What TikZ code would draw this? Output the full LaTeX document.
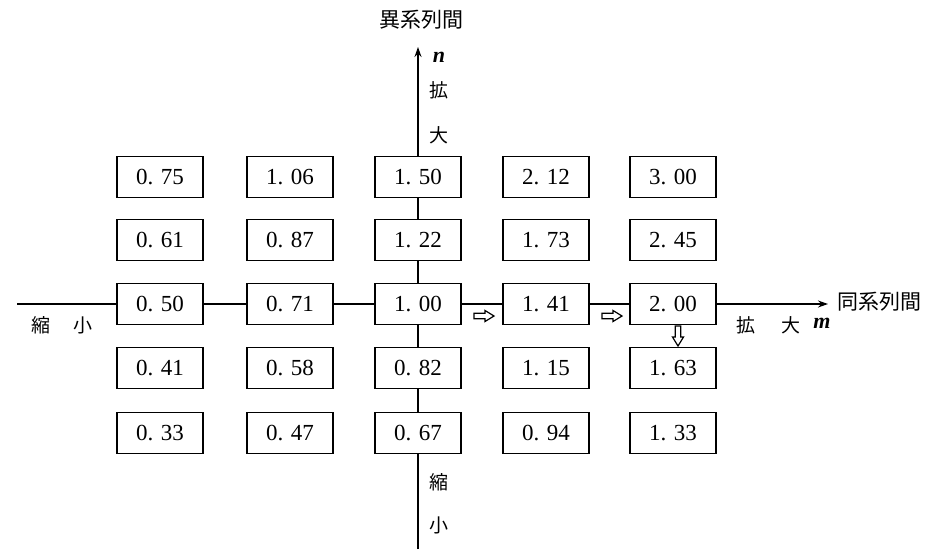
\documentclass[tikz,border=0pt]{standalone}
\usepackage{fontspec}
\setmainfont{Liberation Serif}
\newfontfamily\jp{Noto Sans CJK JP}
\usetikzlibrary{arrows.meta}
\begin{document}
\begin{tikzpicture}[x=1pt,y=-1pt,
 valbox/.style={draw,line width=1.6pt,fill=white,minimum width=86pt,minimum height=41pt,inner sep=0pt,font=\fontsize{23}{25}\selectfont},
 axis/.style={line width=1.5pt},
 axisend/.style={line width=1.5pt,-{Stealth[length=10pt,width=7pt]}},
 lbl/.style={font=\jp\fontsize{19}{21}\selectfont,inner sep=0pt},
 head/.style={font=\jp\fontsize{21}{23}\selectfont,inner sep=0pt},
 var/.style={font=\bfseries\itshape\fontsize{22}{24}\selectfont,inner sep=0pt},
 hollow/.pic={\draw[line width=1.2pt,line join=miter,fill=white] (-10,-2.8) -- (1,-2.8) -- (1,-5.5) -- (10,0) -- (1,5.5) -- (1,2.8) -- (-10,2.8) -- cycle;}
]
\useasboundingbox (0,0) rectangle (937,555);
% row 1
\node[valbox] (b11) at (160,177) {0. 75};
\node[valbox] (b12) at (290,177) {1. 06};
\node[valbox] (b13) at (418,177) {1. 50};
\node[valbox] (b14) at (546,177) {2. 12};
\node[valbox] (b15) at (673,177) {3. 00};
% row 2
\node[valbox] (b21) at (160,240) {0. 61};
\node[valbox] (b22) at (290,240) {0. 87};
\node[valbox] (b23) at (418,240) {1. 22};
\node[valbox] (b24) at (546,240) {1. 73};
\node[valbox] (b25) at (673,240) {2. 45};
% row 3
\node[valbox] (b31) at (160,304) {0. 50};
\node[valbox] (b32) at (290,304) {0. 71};
\node[valbox] (b33) at (418,304) {1. 00};
\node[valbox] (b34) at (546,304) {1. 41};
\node[valbox] (b35) at (673,304) {2. 00};
% row 4
\node[valbox] (b41) at (160,368) {0. 41};
\node[valbox] (b42) at (290,368) {0. 58};
\node[valbox] (b43) at (418,368) {0. 82};
\node[valbox] (b44) at (546,368) {1. 15};
\node[valbox] (b45) at (673,368) {1. 63};
% row 5
\node[valbox] (b51) at (160,433) {0. 33};
\node[valbox] (b52) at (290,433) {0. 47};
\node[valbox] (b53) at (418,433) {0. 67};
\node[valbox] (b54) at (546,433) {0. 94};
\node[valbox] (b55) at (673,433) {1. 33};
% axis ends
\coordinate (hl) at (17,304);
\coordinate (hr) at (828,304);
\coordinate (vt) at (418,47);
\coordinate (vb) at (418,549);
% horizontal axis
\draw[axis] (hl) -- (b31.west);
\draw[axis] (b31.east) -- (b32.west);
\draw[axis] (b32.east) -- (b33.west);
\draw[axis] (b33.east) -- (b34.west);
\draw[axis] (b34.east) -- (b35.west);
\draw[axisend] (b35.east) -- (hr);
% vertical axis
\draw[axis] (vb) -- (b53.south);
\draw[axis] (b53.north) -- (b43.south);
\draw[axis] (b43.north) -- (b33.south);
\draw[axis] (b33.north) -- (b23.south);
\draw[axis] (b23.north) -- (b13.south);
\draw[axisend] (b13.north) -- (vt);
% labels
\node[head] (t1) at (421,20) {異系列間};
\node[head, anchor=west] (t2) at (837,302) {同系列間};
\node[var] (ln) at (439,57) {n};
\node[lbl] (l1) at (439,90) {拡};
\node[lbl] (l2) at (439,135) {大};
\node[lbl] (l3) at (439,482) {縮};
\node[lbl] (l4) at (439,525) {小};
\node[lbl] (l5) at (41,325) {縮};
\node[lbl] (l6) at (83,325) {小};
\node[lbl] (l7) at (746,325) {拡};
\node[lbl] (l8) at (791,325) {大};
\node[var] (lm) at (822,323) {m};
% hollow arrows
\pic at (484,316) {hollow};
\pic at (612,316) {hollow};
\pic[rotate=-90] at (678,336) {hollow};
\end{tikzpicture}
\end{document}
